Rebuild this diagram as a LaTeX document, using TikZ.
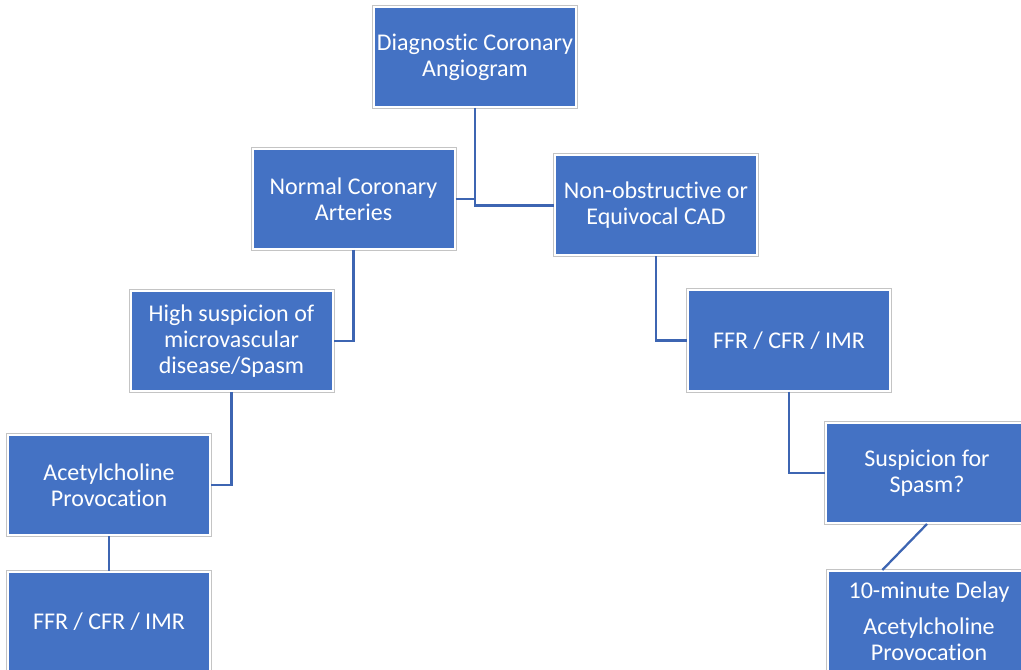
\documentclass[tikz,border=0pt]{standalone}
\usepackage{fontspec}
\setmainfont{Carlito}[Ligatures=NoCommon]
\definecolor{boxblue}{RGB}{68,114,196}
\definecolor{linkblue}{RGB}{61,101,178}
\definecolor{rimgray}{RGB}{196,196,196}
\tikzset{
  stepbox/.style={rectangle, fill=boxblue, draw=white, line width=1.5pt,
    preaction={draw=rimgray, line width=3pt},
    minimum width=151.5pt, minimum height=75pt, inner sep=2pt,
    text=white, align=center, font=\fontsize{18}{19.5}\selectfont},
  link/.style={draw=linkblue, line width=1.7pt},
}
\begin{document}
\begin{tikzpicture}[x=0.75pt,y=0.75pt,yscale=-1,xscale=1]
        \useasboundingbox (0,0) rectangle (1021,670);
        \clip (0,0) rectangle (1021,670);
        % boxes
        \node[stepbox] (dca) at (475,57) {Diagnostic Coronary\\Angiogram};
        \node[stepbox] (nca) at (353.5,199) {Normal Coronary\\Arteries};
        \node[stepbox] (nobs) at (656,205.5) {Non-obstructive or\\Equivocal CAD};
        \node[stepbox] (hs) at (231.5,341) {High suspicion of\\microvascular\\disease/Spasm};
        \node[stepbox] (ffrr) at (789,340.5) {FFR / CFR / IMR};
        \node[stepbox] (ach) at (109,485) {Acetylcholine\\Provocation};
        \node[stepbox] (ffrl) at (109,622) {FFR / CFR / IMR};
        \node[stepbox] (sus) at (927,473) {Suspicion for\\Spasm?};
        \node[stepbox] (delay) at (929,621) {10-minute Delay\\[7.5pt]Acetylcholine\\Provocation};
        % connectors
        \draw[link] (dca.south) |- (nobs.west);
        \draw[link] (nca.east) -- (nca.east -| dca.south);
        \draw[link] (nca.south) |- (hs.east);
        \draw[link] (hs.south) |- (ach.east);
        \draw[link] (ach.south) -- (ffrl.north);
        \draw[link] (nobs.south) |- (ffrr.west);
        \draw[link] (ffrr.south) |- (sus.west);
        \draw[link] (sus.south) -- ([xshift=-35pt]delay.north);
\end{tikzpicture}
\end{document}
